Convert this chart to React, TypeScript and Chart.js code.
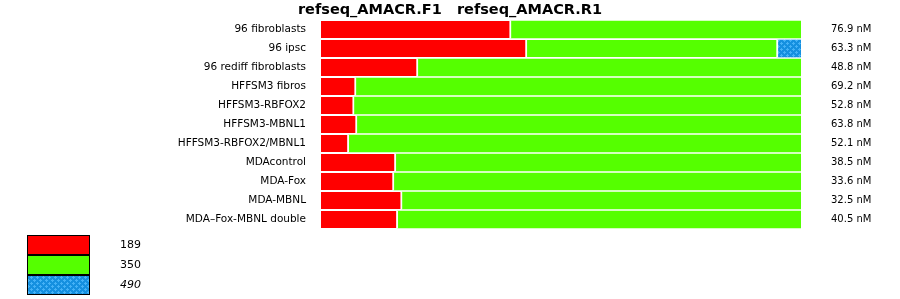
import React, { useEffect, useRef } from 'react';
import { Chart, registerables } from 'chart.js';

Chart.register(...registerables);

const titleText = 'refseq_AMACR.F1   refseq_AMACR.R1';

const categories = [
  '96 fibroblasts',
  '96 ipsc',
  '96 rediff fibroblasts',
  'HFFSM3 fibros',
  'HFFSM3-RBFOX2',
  'HFFSM3-MBNL1',
  'HFFSM3-RBFOX2/MBNL1',
  'MDAcontrol',
  'MDA-Fox',
  'MDA-MBNL',
  'MDA\u2013Fox-MBNL double',
];

const concentrations = [
  '76.9 nM', '63.3 nM', '48.8 nM', '69.2 nM', '52.8 nM', '63.8 nM',
  '52.1 nM', '38.5 nM', '33.6 nM', '32.5 nM', '40.5 nM',
];

// percent of each product size per sample
const size189 = [39.6, 42.9, 20.2, 7.3, 6.9, 7.5, 5.8, 15.6, 15.2, 16.9, 16.0];
const size350 = [60.4, 52.3, 79.8, 92.7, 93.1, 92.5, 94.2, 84.4, 84.8, 83.1, 84.0];
const size490 = [null, 4.8, null, null, null, null, null, null, null, null, null];

const legendLabels = ['189', '350', '490'];
const legendItalic = [false, false, true];

function makePattern(): CanvasPattern | string {
  const c = document.createElement('canvas');
  c.width = 6;
  c.height = 6;
  const g = c.getContext('2d');
  if (!g) return '#1590e0';
  g.fillStyle = '#1590e0';
  g.fillRect(0, 0, 6, 6);
  g.fillStyle = '#45b2f7';
  const plus = (x: number, y: number) => {
    g.fillRect(x - 1, y, 3, 1);
    g.fillRect(x, y - 1, 1, 3);
  };
  plus(1, 1);
  plus(4, 4);
  const p = g.createPattern(c, 'repeat');
  return p || '#1590e0';
}

const boxLegend = {
  id: 'boxLegend',
  afterDraw(chart: any) {
    const ctx = chart.ctx as CanvasRenderingContext2D;
    ctx.save();
    chart.data.datasets.forEach((ds: any, i: number) => {
      const y = 235 + i * 20;
      ctx.fillStyle = ds.backgroundColor;
      ctx.fillRect(27, y, 63, 20);
      ctx.strokeStyle = '#000';
      ctx.lineWidth = 1;
      ctx.strokeRect(27.5, y + 0.5, 62, 19);
      ctx.font = `${legendItalic[i] ? 'italic ' : ''}11px "DejaVu Sans"`;
      ctx.fillStyle = '#000';
      ctx.textAlign = 'left';
      ctx.textBaseline = 'middle';
      ctx.fillText(ds.label, 120, y + 10.5);
    });
    ctx.restore();
  },
};

export default function App() {
  const ref = useRef<HTMLCanvasElement | null>(null);

  useEffect(() => {
    if (!ref.current) return;
    const pattern = makePattern();
    const gapRight = { top: 0, bottom: 0, left: 0, right: 2 };
    const noBorder = { top: 0, bottom: 0, left: 0, right: 0 };
    const fitLeft = (s: any) => { s.width = 321; s.paddingTop = 0; s.paddingBottom = 0; };
    const fitRight = (s: any) => { s.width = 99; s.paddingTop = 0; s.paddingBottom = 0; };
    const chart = new Chart(ref.current, {
      type: 'bar',
      data: {
        labels: categories,
        datasets: [
          { label: legendLabels[0], data: size189, backgroundColor: '#ff0000', borderColor: '#ffffff', borderWidth: gapRight, borderSkipped: false as any },
          {
            label: legendLabels[1], data: size350, backgroundColor: '#55ff00', borderColor: '#ffffff', borderSkipped: false as any,
            borderWidth: ((c: any) => (size490[c.dataIndex] != null ? gapRight : noBorder)) as any,
          },
          { label: legendLabels[2], data: size490 as any, backgroundColor: pattern as any, borderColor: '#ffffff', borderWidth: 0 },
        ],
      },
      options: {
        indexAxis: 'y',
        animation: false,
        responsive: false,
        maintainAspectRatio: false,
        layout: { padding: { left: 0, right: 0, top: 0, bottom: 70 } },
        datasets: { bar: { barThickness: 17 } },
        scales: {
          x: { display: false, stacked: true, min: 0, max: 100 },
          y: {
            type: 'category',
            position: 'left',
            stacked: true,
            offset: true,
            grid: { display: false, drawTicks: false },
            border: { display: false },
            ticks: { color: '#000', font: { family: '"DejaVu Sans"', size: 10.5 }, padding: 15, autoSkip: false },
            afterFit: fitLeft,
          },
          y2: {
            type: 'category',
            position: 'right',
            labels: concentrations,
            offset: true,
            grid: { display: false, drawTicks: false },
            border: { display: false },
            ticks: { color: '#000', font: { family: '"DejaVu Sans"', size: 10 }, padding: 30, autoSkip: false },
            afterFit: fitRight,
          },
        },
        plugins: {
          legend: { display: false },
          tooltip: { enabled: false },
          title: {
            display: true,
            text: titleText,
            color: '#000',
            font: { family: '"DejaVu Sans"', size: 14.5, weight: 'bold', lineHeight: 1.2 },
            padding: { top: 1.5, bottom: 1.1 },
          },
        },
      },
      plugins: [boxLegend],
    });
    return () => chart.destroy();
  }, []);

  return (
    <div style={{ position: 'absolute', left: 0, top: 0, width: 900, height: 299, background: '#fff' }}>
      <canvas ref={ref} width={900} height={299} style={{ display: 'block' }} />
    </div>
  );
}
